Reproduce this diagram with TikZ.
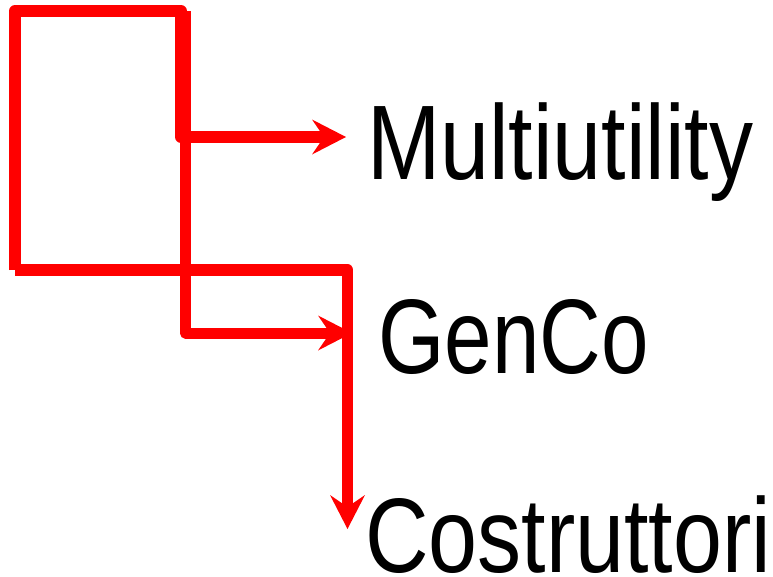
\documentclass[tikz,border=0pt]{standalone}
\usepackage{fontspec}
\setmainfont{Liberation Sans}
\newfontfamily\labfont[FakeStretch=0.83]{Liberation Sans}
\newfontfamily\labfontn[FakeStretch=0.805]{Liberation Sans}
\usetikzlibrary{arrows.meta}
\definecolor{linered}{RGB}{255,0,0}
\tikzset{
  conn/.style={draw=linered, line width=11.5pt, line join=round,
    -{Stealth[length=34pt, width=35pt, inset=12pt, line width=0pt, fill=linered]}},
  lab/.style={anchor=base west, inner sep=0pt, font=\labfont\fontsize{106}{110}\selectfont},
  labn/.style={lab, font=\labfontn\fontsize{106}{110}\selectfont}
}
\begin{document}
\begin{tikzpicture}[x=1pt, y=-1pt]
\useasboundingbox (0,0) rectangle (773,576);
% labels
\node[lab] (multi) at (367,179) {Multiutility};
\node[labn] (genco) at (378,373) {GenCo};
\node[lab] (costr) at (365,572) {Costruttori};
% frame corners
\coordinate (bl) at (15,270);
\coordinate (tl) at (15,11);
\coordinate (tr) at (181,11);
\coordinate (mj) at (181,137);
\coordinate (gtop) at (185.5,11);
\coordinate (gj) at (185.5,333);
\coordinate (cj) at (347.5,270);
% arrow ends
\coordinate (multiIn) at (346,137);
\coordinate (gencoIn) at (352,333);
\coordinate (costrIn) at (347.5,529);
% connectors
\draw[conn, line width=12pt] (bl) -- (tl) -- (tr) -- (mj) -- (multiIn);
\draw[conn, line width=11pt] (gtop) -- (gj) -- (gencoIn);
\draw[conn] (bl) -- (cj) -- (costrIn);
\end{tikzpicture}
\end{document}
